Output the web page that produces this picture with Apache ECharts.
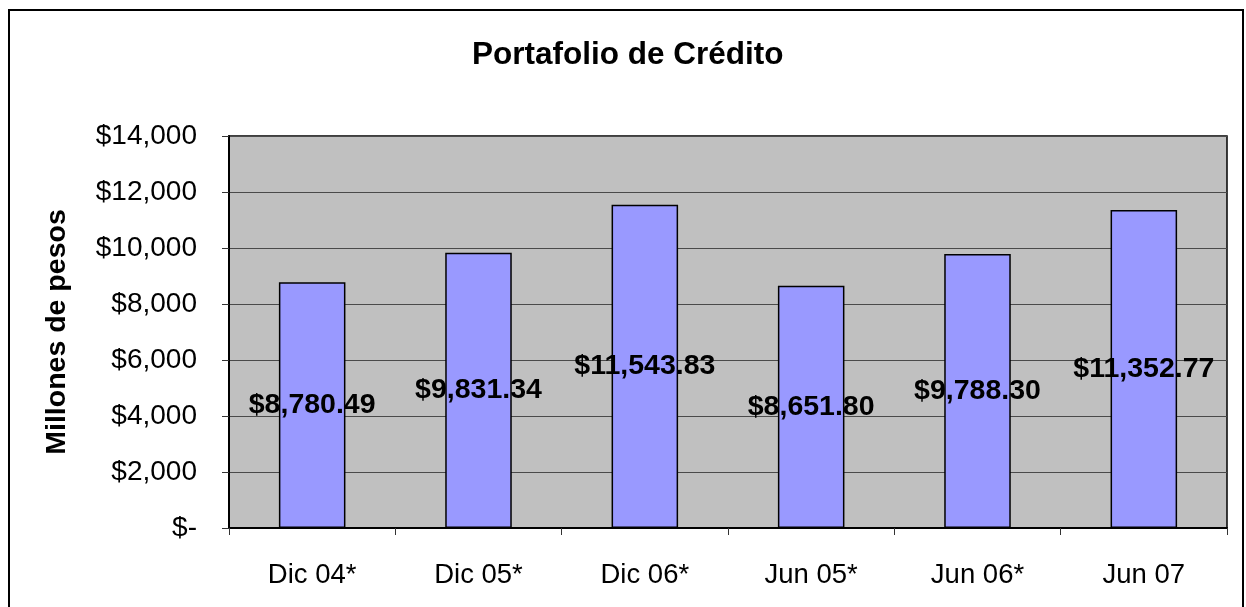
<!DOCTYPE html>
<html>
<head>
<meta charset="utf-8">
<script src="https://cdn.jsdelivr.net/npm/echarts@6/dist/echarts.min.js"></script>
<style>
  html, body { margin: 0; padding: 0; background: #fff; }
  #chart { width: 1246px; height: 607px; }
</style>
</head>
<body>
<div id="chart"></div>
<script>
// chart data
const categories = ['Dic 04*', 'Dic 05*', 'Dic 06*', 'Jun 05*', 'Jun 06*', 'Jun 07'];
const portafolio = [8780.49, 9831.34, 11543.83, 8651.80, 9788.30, 11352.77];
const yTicks = [0, 2000, 4000, 6000, 8000, 10000, 12000, 14000];

const FONT = '"Liberation Sans", Arial, sans-serif';

function money(v, dec) {
    return '$' + v.toLocaleString('en-US', { minimumFractionDigits: dec, maximumFractionDigits: dec });
}

var chart = echarts.init(document.getElementById('chart'), null, { renderer: 'canvas' });

var option = {
    backgroundColor: '#fff',
    animation: false,
    textStyle: { fontFamily: FONT },
    title: {
        text: 'Portafolio de Crédito',
        left: 467,
        top: 34,
        textStyle: { fontFamily: FONT, fontSize: 31.5, fontWeight: 'bold', color: '#000' }
    },
    // outer frame of the chart
    graphic: [{
        type: 'rect',
        shape: { x: 9, y: 10, width: 1234, height: 620 },
        style: { fill: null, stroke: '#000', lineWidth: 2 },
        silent: true
    }],
    grid: {
        left: 229, right: 19, top: 136, bottom: 79,
        show: true,
        backgroundColor: '#C0C0C0',
        borderColor: '#000',
        borderWidth: 1.5
    },
    xAxis: {
        type: 'category',
        data: categories,
        axisLine: { lineStyle: { color: '#000', width: 2 } },
        axisTick: { show: true, length: 7, lineStyle: { color: '#333', width: 1 } },
        axisLabel: { margin: 33, fontSize: 27.5, color: '#000', fontFamily: FONT }
    },
    yAxis: {
        type: 'value',
        min: yTicks[0],
        max: yTicks[yTicks.length - 1],
        interval: 2000,
        name: 'Millones de pesos',
        nameLocation: 'middle',
        nameGap: 157,
        nameTextStyle: { fontSize: 28.5, fontWeight: 'bold', color: '#000', fontFamily: FONT },
        axisLine: { show: true, lineStyle: { color: '#000', width: 2 } },
        axisTick: { show: true, length: 7, lineStyle: { color: '#333', width: 1 } },
        axisLabel: {
            margin: 32, fontSize: 28, color: '#000', fontFamily: FONT,
            formatter: function (v) { return v === 0 ? '$-' : money(v, 0); }
        },
        splitLine: { show: true, lineStyle: { color: '#4a4a4a', width: 1 } }
    },
    series: [{
        type: 'bar',
        data: portafolio,
        barWidth: '40%',
        itemStyle: { color: '#9999FF', borderColor: '#000', borderWidth: 1.5 },
        label: {
            show: true,
            position: 'inside',
            fontSize: 28.5,
            fontWeight: 'bold',
            color: '#000',
            fontFamily: FONT,
            formatter: function (p) { return money(p.value, 2); }
        }
    }]
};

chart.setOption(option);
</script>
</body>
</html>
